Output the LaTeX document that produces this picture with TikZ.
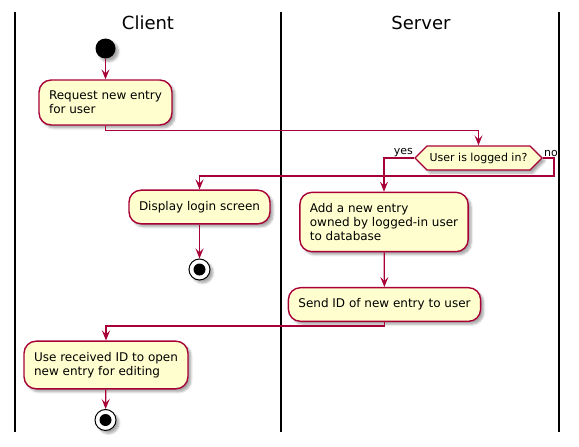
\documentclass[tikz,border=0pt]{standalone}
\usepackage{fontspec}
\setmainfont{DejaVu Sans}
\usepackage{tikz}
\usetikzlibrary{arrows.meta,shapes.symbols,shadows.blur}

\definecolor{actfill}{HTML}{FEFECE}
\definecolor{actline}{HTML}{A80036}

\tikzset{
  shade/.style={blur shadow={shadow xshift=3pt, shadow yshift=-3pt, shadow opacity=35, shadow blur steps=6}},
  act/.style={draw=actline, fill=actfill, line width=1.4pt, rounded corners=12pt, align=left,
    inner xsep=10pt, inner ysep=11pt, font=\fontsize{12}{14}\selectfont, shade},
  cond/.style={draw=actline, fill=actfill, line width=1.4pt, shape=signal, signal to=east and west,
    minimum width=127pt, minimum height=24pt, inner xsep=1pt, inner ysep=0pt, font=\fontsize{11}{13}\selectfont, shade},
  startdot/.style={circle, fill=black, minimum size=20pt, inner sep=0pt, shade},
  stopdot/.style={circle, draw=black, fill=white, line width=1pt, minimum size=21pt, inner sep=0pt, shade,
    path picture={\fill[black] (path picture bounding box.center) circle (6pt);}},
  flow/.style={draw=actline, line width=1.2pt, -{Stealth[length=10pt, width=8pt, inset=4pt]}},
  lane/.style={draw=black, line width=1.5pt},
  lanetitle/.style={font=\fontsize{18}{20}\selectfont},
  branch/.style={font=\fontsize{11}{13}\selectfont, inner sep=1pt}
}

\begin{document}
\begin{tikzpicture}[x=1pt, y=-1pt]
\useasboundingbox (0,0) rectangle (579,447);
% swimlanes
\draw[lane] (15,12) -- (15,432);
\draw[lane] (281,12) -- (281,432);
\draw[lane] (559,12) -- (559,432);
\node[lanetitle] (client) at (148,23) {Client};
\node[lanetitle] (server) at (421,23) {Server};
%
\node[startdot] (start) at (105.5,48.5) {};
\node[act] (request) at (105.5,102.5) {Request new entry\\for user};
\node[cond] (logged) at (478.5,158) {User is logged in?};
\node[act] (login) at (199.5,207) {Display login screen};
\node[stopdot] (stopa) at (199.5,269.5) {};
\node[act] (add) at (384,222) {Add a new entry\\owned by logged-in user\\to database};
\node[act] (send) at (384.5,304.5) {Send ID of new entry to user};
\node[act] (open) at (106,365) {Use received ID to open\\new entry for editing};
\node[stopdot] (stopb) at (105.5,420) {};
%
\draw[flow] (start) -- (request);
\draw[flow] (request.south) -- ++(0,4.5) -| (logged.north);
\draw[flow] (logged.west) -| (add.north);
\draw[flow] (logged.east) -- ++(11,0) -- ++(0,18) -| (login.north);
\draw[flow] (login) -- (stopa);
\draw[flow] (add) -- (send);
\draw[flow] (send.south) -- ++(0,4) -| (open.north);
\draw[flow] (open) -- (stopb);
%
\node[branch, anchor=south east] (yes) at (logged.west) {yes};
\node[branch, anchor=south west] (no) at (logged.east) {no};
\end{tikzpicture}
\end{document}
